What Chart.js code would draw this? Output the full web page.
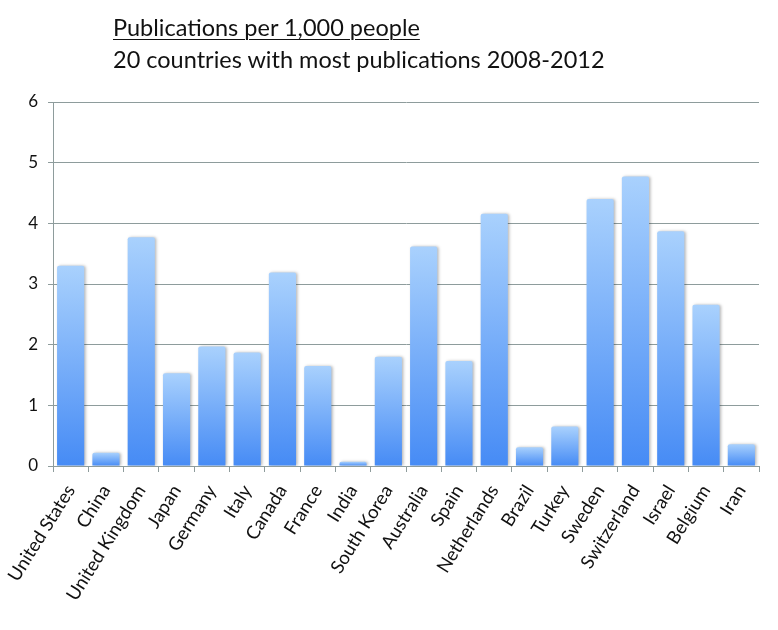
<!DOCTYPE html>
<html>
<head>
<meta charset="utf-8">
<script src="https://cdn.jsdelivr.net/npm/chart.js@4.4.1/dist/chart.umd.min.js"></script>
<style>
  body { margin: 0; background: #fff; }
  #wrap { position: relative; width: 778px; height: 630px; }
  #title { position: absolute; left: 113px; top: 11px; font-family: Lato, sans-serif; font-size: 23.5px; color: #111; line-height: 32px; white-space: nowrap; }
  #title u { text-underline-offset: 3px; text-decoration-thickness: 1px; }
</style>
</head>
<body>
<div id="wrap">
  <canvas id="myChart" width="778" height="630"></canvas>
  <div id="title"><u>Publications per 1,000 people</u><br>20 countries with most publications 2008-2012</div>
</div>
<script>
let countries = ['United States', 'China', 'United Kingdom', 'Japan', 'Germany', 'Italy', 'Canada', 'France', 'India', 'South Korea',
    'Australia', 'Spain', 'Netherlands', 'Brazil', 'Turkey', 'Sweden', 'Switzerland', 'Israel', 'Belgium', 'Iran'];
let pubsPer1000 = [3.30, 0.22, 3.77, 1.53, 1.97, 1.87, 3.19, 1.65, 0.07, 1.80,
    3.62, 1.73, 4.16, 0.31, 0.65, 4.40, 4.77, 3.87, 2.66, 0.36];

let gridGray = '#8e9c9c';

// light at the top of each bar, deeper blue at the bottom
function barGradient(ctx) {
    let chart = ctx.chart;
    if (!chart.chartArea || ctx.dataIndex === undefined) return '#6aa8f8';
    let y = chart.scales.y;
    let top = y.getPixelForValue(ctx.raw);
    let bottom = y.getPixelForValue(0);
    if (!isFinite(top) || bottom - top < 1) return '#6aa8f8';
    let g = chart.ctx.createLinearGradient(0, top, 0, bottom);
    g.addColorStop(0, '#a9d1fd');
    g.addColorStop(1, '#468bf5');
    return g;
}

// soft shadow on the bars, like the original
let barShadow = {
    id: 'barShadow',
    beforeDatasetsDraw(chart) {
        let c = chart.ctx;
        c.save();
        c.shadowColor = 'rgba(0, 0, 0, 0.28)';
        c.shadowBlur = 3;
        c.shadowOffsetX = 1.5;
        c.shadowOffsetY = 0;
    },
    afterDatasetsDraw(chart) {
        chart.ctx.restore();
    }
};

let myChart = document.getElementById('myChart').getContext('2d');

let chart = new Chart(myChart, {
    type: 'bar',
    data: {
        labels: countries,
        datasets: [{
            data: pubsPer1000,
            backgroundColor: barGradient,
            borderWidth: 0,
            borderRadius: { topLeft: 2, topRight: 2 },
            barPercentage: 0.77,
            categoryPercentage: 1
        }]
    },
    plugins: [barShadow],
    options: {
        responsive: false,
        animation: false,
        layout: { padding: { top: 102, right: 19, left: 0, bottom: 0 } },
        plugins: {
            legend: { display: false },
            tooltip: { enabled: false }
        },
        scales: {
            x: {
                grid: { drawOnChartArea: false, color: gridGray, tickLength: 6, offset: true },
                border: { color: gridGray },
                ticks: {
                    color: '#111',
                    font: { family: 'Lato', size: 18.5 },
                    minRotation: 58,
                    maxRotation: 58,
                    autoSkip: false,
                    padding: 9
                },
                afterFit: function (axis) { axis.height = 164; }
            },
            y: {
                min: 0,
                max: 6,
                grid: { color: gridGray, tickLength: 5 },
                border: { color: gridGray },
                ticks: {
                    stepSize: 1,
                    color: '#111',
                    font: { family: 'Lato', size: 17 },
                    padding: 10
                },
                afterFit: function (axis) { axis.width = 53; }
            }
        }
    }
});
</script>
</body>
</html>
